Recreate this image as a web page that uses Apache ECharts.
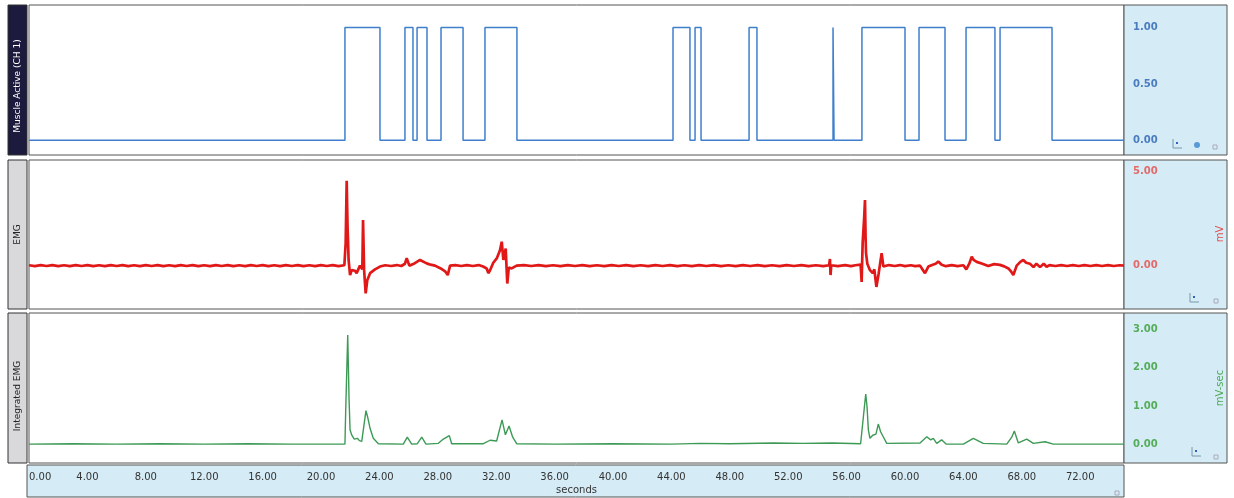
<!DOCTYPE html>
<html><head><meta charset="utf-8">
<script src="https://cdn.jsdelivr.net/npm/echarts@6/dist/echarts.min.js"></script>
<style>html,body{margin:0;padding:0;background:#fff}#c{width:1234px;height:498px}</style>
</head><body><div id="c"></div><script>
// ---- data (seconds, value) ----
const xTicks = [0,4,8,12,16,20,24,28,32,36,40,44,48,52,56,60,64,68,72];
const muscleTicks = [0, 0.5, 1];
const emgTicks = [0, 5];
const iemgTicks = [0, 1, 2, 3];

// Muscle Active (CH 1): state changes (step held until next point)
const muscle = [
 [0,0],[21.64,1],[24.04,0],[25.75,1],[26.30,0],[26.58,1],[27.26,0],[28.22,1],[29.73,0],
 [31.23,1],[33.42,0],[44.11,1],[45.27,0],[45.62,1],[46.03,0],[49.32,1],[49.86,0],
 [55.07,1],[55.14,0],[57.05,1],[60.00,0],[60.96,1],[62.74,0],[64.18,1],[66.16,0],
 [66.51,1],[70.07,0],[75,0]
];

// EMG (mV)
const emg = [
 [0,0.02],[0.4,-0.03],[0.8,0.03],[1.2,-0.02],[1.6,0.03],[2.0,-0.03],[2.4,0.02],[2.8,-0.03],[3.2,0.03],[3.6,-0.02],
 [4.0,0.03],[4.4,-0.03],[4.8,0.02],[5.2,-0.03],[5.6,0.03],[6.0,-0.02],[6.4,0.03],[6.8,-0.03],[7.2,0.02],[7.6,-0.03],
 [8.0,0.03],[8.4,-0.02],[8.8,0.03],[9.2,-0.03],[9.6,0.02],[10.0,-0.03],[10.4,0.03],[10.8,-0.02],[11.2,0.03],[11.6,-0.03],
 [12.0,0.02],[12.4,-0.03],[12.8,0.03],[13.2,-0.02],[13.6,0.03],[14.0,-0.03],[14.4,0.02],[14.8,-0.03],[15.2,0.03],[15.6,-0.02],
 [16.0,0.03],[16.4,-0.03],[16.8,0.02],[17.2,-0.03],[17.6,0.03],[18.0,-0.02],[18.4,0.03],[18.8,-0.03],[19.2,0.02],[19.6,-0.03],
 [20.0,0.03],[20.4,-0.02],[20.8,0.03],[21.2,-0.03],[21.6,0.02],
 [21.69,1.2],[21.76,4.5],[21.82,2.0],[21.85,1.36],[21.89,0.3],[21.99,-0.5],[22.1,-0.24],[22.33,-0.27],[22.44,-0.4],[22.67,0],
 [22.83,-0.2],[22.88,2.42],[22.95,-0.2],[23.06,-1.47],[23.17,-0.77],[23.36,-0.4],[23.7,-0.2],[24.04,-0.05],[24.4,0.02],[24.8,-0.02],
 [25.2,0.03],[25.5,-0.02],[25.75,0.1],[25.87,0.4],[26.05,0],[26.32,0.08],[26.78,0.3],[27.24,0.12],[27.5,0.05],[27.81,0],
 [28.2,-0.15],[28.5,-0.3],[28.68,-0.5],[28.84,0],[29.2,0.03],[29.6,-0.02],[30.0,0.03],[30.4,-0.02],[30.8,0.03],[31.1,-0.05],
 [31.35,-0.15],[31.46,-0.4],[31.58,-0.25],[31.8,0.15],[32.05,0.4],[32.26,0.82],[32.38,1.27],[32.49,0.3],[32.56,0.2],[32.65,0.9],
 [32.76,-0.95],[32.86,-0.1],[33.06,-0.15],[33.4,0],
 [33.9,0.03],[34.4,-0.02],[34.9,0.03],[35.4,-0.03],[35.9,0.02],[36.4,-0.03],[36.9,0.03],[37.4,-0.02],[37.9,0.03],[38.4,-0.03],
 [38.9,0.02],[39.4,-0.03],[39.9,0.03],[40.4,-0.02],[40.9,0.03],[41.4,-0.03],[41.9,0.02],[42.4,-0.03],[42.9,0.03],[43.4,-0.02],
 [43.9,0.03],[44.4,-0.03],[44.9,0.02],[45.4,-0.03],[45.9,0.03],[46.4,-0.02],[46.9,0.03],[47.4,-0.03],[47.9,0.02],[48.4,-0.03],
 [48.9,0.03],[49.4,-0.02],[49.9,0.03],[50.4,-0.03],[50.9,0.02],[51.4,-0.03],[51.9,0.03],[52.4,-0.02],[52.9,0.03],[53.4,-0.03],
 [53.9,0.02],[54.4,-0.03],[54.8,0.02],[54.86,0.35],[54.9,-0.5],[54.95,0.02],[55.4,-0.03],[55.9,0.03],[56.3,-0.03],[56.6,0.02],
 [56.96,0.05],[57.03,-0.86],[57.1,1.2],[57.2,2.5],[57.26,3.48],[57.3,1.5],[57.33,0.66],[57.42,0.1],[57.6,-0.24],[57.79,-0.4],
 [57.9,-0.2],[58.04,-1.13],[58.2,-0.4],[58.4,0.66],[58.52,-0.05],
 [58.9,0.03],[59.3,-0.02],[59.66,0.03],[60.0,-0.03],[60.4,0.02],[60.7,-0.03],[61.03,0],[61.2,-0.2],[61.37,-0.4],[61.6,-0.05],
 [61.9,0.05],[62.1,0.1],[62.28,0.22],[62.51,0.05],[62.8,-0.03],[63.2,0.03],[63.6,-0.03],[64.0,0.02],[64.2,-0.2],[64.4,0.1],
 [64.57,0.47],[64.7,0.3],[64.91,0.2],[65.3,0.1],[65.7,-0.02],[66.1,0.08],[66.5,0.04],[66.8,-0.04],[67.08,-0.15],[67.3,-0.35],
 [67.42,-0.5],[67.65,0],[67.9,0.2],[68.1,0.3],[68.3,0.15],[68.56,0.1],[68.8,-0.08],[69.0,0.1],[69.25,-0.08],[69.5,0.1],
 [69.7,-0.06],[69.9,0.03],[70.3,-0.02],[70.7,0.03],[71.1,-0.02],[71.5,0.03],[71.9,-0.02],[72.3,0.03],[72.7,-0.02],[73.1,0.03],
 [73.5,-0.02],[73.9,0.03],[74.3,-0.02],[74.7,0.02],[75,0]
];

// Integrated EMG (mV-sec)
const iemg = [
 [0,0.02],[3,0.03],[6,0.02],[9,0.03],[12,0.02],[15,0.03],[18,0.02],[21.64,0.02],
 [21.69,0.86],[21.71,0.9],[21.83,2.85],[21.92,1.21],[21.99,0.39],[22.1,0.26],[22.28,0.15],[22.49,0.17],[22.63,0.11],[22.79,0.09],
 [22.9,0.39],[23.08,0.89],[23.19,0.73],[23.36,0.43],[23.58,0.17],[23.93,0.03],[25.64,0.02],[25.91,0.2],[26.21,0.02],[26.6,0.03],
 [26.9,0.2],[27.19,0.02],[28.04,0.04],[28.38,0.15],[28.79,0.24],[28.95,0.03],[31.12,0.03],[31.58,0.12],[32.03,0.1],[32.4,0.65],
 [32.63,0.26],[32.88,0.49],[33.13,0.2],[33.4,0.03],[36,0.02],[40,0.03],[44,0.02],[46,0.04],[48,0.03],[51,0.05],[53,0.04],
 [55,0.05],[56.96,0.03],[57.15,0.73],[57.31,1.32],[57.4,0.99],[57.49,0.39],[57.6,0.17],[57.79,0.25],[57.9,0.3],[58.01,0.28],
 [58.17,0.54],[58.33,0.34],[58.51,0.21],[58.75,0.04],[61.03,0.05],[61.49,0.21],[61.76,0.13],[61.94,0.17],[62.17,0.04],[62.51,0.13],
 [62.81,0.02],[64.0,0.02],[64.68,0.17],[65.36,0.04],[66.97,0.02],[67.31,0.2],[67.49,0.36],[67.76,0.05],[68.34,0.15],[68.79,0.04],
 [69.59,0.08],[70.16,0.02],[75,0.02]
];

// ---- chart ----
const chart = echarts.init(document.getElementById('c'));
const PL = 29, PR = 1124;
const panels = [{top:5,h:150},{top:160,h:149},{top:313,h:150}];
const fmt2 = v => v.toFixed(2);
const FONT = 'DejaVu Sans';

function yAx(i, min, max, ticks, color){
  return {type:'value', gridIndex:i, position:'right', min:min, max:max,
    axisLine:{show:false}, axisTick:{show:false}, splitLine:{show:false},
    axisLabel:{customValues:ticks, formatter:fmt2, color:color, fontSize:10, fontFamily:FONT, fontWeight:'bold', margin:9, align:'left'}};
}
function xAx(i, show){
  return {type:'value', gridIndex:i, min:0, max:75, interval:4,
    axisLine:{show:false}, axisTick:{show:false}, splitLine:{show:false},
    axisLabel:{show:show, customValues:xTicks, formatter:fmt2, color:'#333', fontSize:10, fontFamily:FONT, margin:9, alignMinLabel:'left'},
    name: show ? 'seconds' : '', nameLocation:'middle', nameGap:22,
    nameTextStyle:{color:'#333', fontSize:10, fontFamily:FONT}};
}

const g = [];
const lightBlue = '#d5ebf5';
g.push({type:'rect', shape:{x:PL-2, y:465, width:PR-PL+2, height:32}, style:{fill:lightBlue, stroke:'#555', lineWidth:1}});
const leftLabels = ['Muscle Active (CH 1)','EMG','Integrated EMG'];
panels.forEach((p,i)=>{
  g.push({type:'rect', shape:{x:PR, y:p.top, width:103, height:p.h}, style:{fill:lightBlue, stroke:'#555', lineWidth:1}});
  g.push({type:'rect', shape:{x:8, y:p.top, width:19, height:p.h}, style:{fill: i===0 ? '#1d1b3d' : '#d9d9dc', stroke:'#333', lineWidth:1}});
  g.push({type:'text', x:17.5, y:p.top + p.h/2 + (i===0?6:(i===2?8:0)), rotation:Math.PI/2,
    style:{text:leftLabels[i], fill: i===0 ? '#fff' : '#222', font:'9px "DejaVu Sans"', textAlign:'center', textVerticalAlign:'middle'}});
});
g.push({type:'text', x:1220, y:234, rotation:Math.PI/2, style:{text:'mV', fill:'#e05050', font:'10px "DejaVu Sans"', textAlign:'center', textVerticalAlign:'middle'}});
g.push({type:'text', x:1220, y:388, rotation:Math.PI/2, style:{text:'mV-sec', fill:'#4caa55', font:'10px "DejaVu Sans"', textAlign:'center', textVerticalAlign:'middle'}});
function icon(x, y){
  g.push({type:'polyline', shape:{points:[[x,y-9],[x,y],[x+9,y]]}, style:{stroke:'#7a9aaa', lineWidth:1, fill:null}});
  g.push({type:'rect', shape:{x:x+3, y:y-6, width:2, height:2}, style:{fill:'#3060c0'}});
}
icon(1173,148); icon(1190,302); icon(1192,456);
g.push({type:'circle', shape:{cx:1197, cy:145, r:3}, style:{fill:'#5a9ad8'}});
[[1213,145],[1214,299],[1214,455],[1115,491]].forEach(a=>g.push({type:'rect', shape:{x:a[0], y:a[1], width:4, height:4}, style:{fill:'none', stroke:'#aab', lineWidth:1}}));

chart.setOption({
  animation:false,
  backgroundColor:'#fff',
  grid: panels.map(p=>({left:PL, right:1234-PR, top:p.top, height:p.h, show:true, backgroundColor:'#fff', borderColor:'#555', borderWidth:1})),
  xAxis:[xAx(0,false), xAx(1,false), xAx(2,true)],
  yAxis:[yAx(0,-0.13,1.2,muscleTicks,'#4a7cc0'), yAx(1,-2.3,5.6,emgTicks,'#e36a6a'), yAx(2,-0.47,3.42,iemgTicks,'#55ad5a')],
  series:[
    {type:'line', xAxisIndex:0, yAxisIndex:0, data:muscle, step:'end', showSymbol:false, lineStyle:{color:'#3f7fcc', width:1.5}},
    {type:'line', xAxisIndex:1, yAxisIndex:1, data:emg, showSymbol:false, lineStyle:{color:'#e01818', width:2.7}},
    {type:'line', xAxisIndex:2, yAxisIndex:2, data:iemg, showSymbol:false, lineStyle:{color:'#3c9a55', width:1.4}}
  ],
  graphic:g
});
</script></body></html>
